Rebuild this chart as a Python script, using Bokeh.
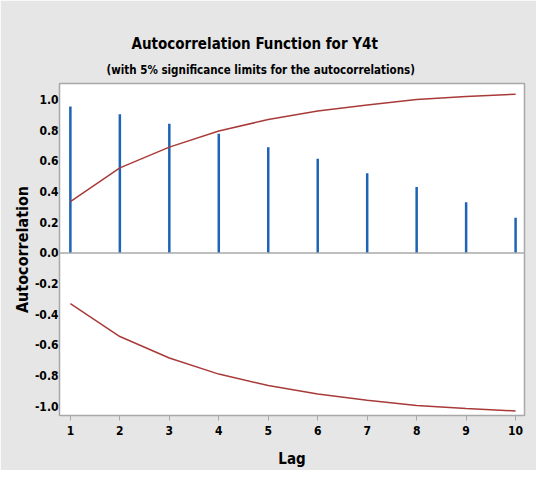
from bokeh.plotting import figure
from bokeh.models import Title, FixedTicker, Span, Range1d, CustomJSTickFormatter
from bokeh.embed import file_html
from bokeh.resources import INLINE

lags = [1, 2, 3, 4, 5, 6, 7, 8, 9, 10]
acf = [0.955, 0.905, 0.842, 0.777, 0.69, 0.615, 0.52, 0.43, 0.33, 0.23]
upper_limit = [0.335, 0.555, 0.69, 0.795, 0.87, 0.925, 0.965, 1.0, 1.02, 1.035]
lower_limit = [-0.33, -0.545, -0.685, -0.79, -0.865, -0.92, -0.96, -0.995, -1.015, -1.03]
y_ticks = [-1.0, -0.8, -0.6, -0.4, -0.2, 0.0, 0.2, 0.4, 0.6, 0.8, 1.0]

FONT = "DejaVu Sans Condensed, Roboto"
BG = "#e6e6e6"

p = figure(width=536, height=470, output_backend="svg", toolbar_location=None,
           x_range=Range1d(0.78, 10.18), y_range=Range1d(-1.06, 1.105),
           min_border_left=59, min_border_right=12, min_border_top=83, min_border_bottom=53)

p.border_fill_color = BG
p.background_fill_color = "white"
p.outline_line_color = "#a8a8a8"
p.outline_line_width = 1.5
p.grid.visible = False

sub = Title(text="(with 5% significance limits for the autocorrelations)", align="left",
            text_font=FONT, text_font_size="11.5px", text_font_style="bold", text_color="black",
            offset=47, standoff=13)
main = Title(text="Autocorrelation Function for Y4t", align="left",
             text_font=FONT, text_font_size="15px", text_font_style="bold", text_color="black",
             offset=72, standoff=3)
p.title = None
p.add_layout(sub, "above")
p.add_layout(main, "above")

p.add_layout(Span(location=0, dimension="width", line_color="#a8a8a8", line_width=1.5))

p.segment(x0=lags, y0=[0] * len(lags), x1=lags, y1=acf, line_color="#1e63b5", line_width=2.5)
p.line(lags, upper_limit, line_color="#a93a3a", line_width=1.5)
p.line(lags, lower_limit, line_color="#a93a3a", line_width=1.5)

p.xaxis.ticker = FixedTicker(ticks=lags)
p.yaxis.ticker = FixedTicker(ticks=y_ticks)
p.yaxis.formatter = CustomJSTickFormatter(code="return tick.toFixed(1);")

for ax in (p.xaxis, p.yaxis):
    ax.axis_line_color = None
    ax.major_tick_line_color = "#a8a8a8"
    ax.minor_tick_line_color = None
    ax.major_label_text_font = FONT
    ax.major_label_text_font_style = "bold"
    ax.major_label_text_font_size = "12px"
    ax.major_label_text_color = "black"
    ax.axis_label_text_font = FONT
    ax.axis_label_text_font_style = "bold"
    ax.axis_label_text_color = "black"

p.xaxis.axis_label = "Lag"
p.xaxis.axis_label_text_font_size = "15px"
p.xaxis.major_tick_out = 5
p.xaxis.major_tick_in = 0
p.xaxis.major_label_standoff = 5
p.xaxis.axis_label_standoff = 12

p.yaxis.axis_label = "Autocorrelation"
p.yaxis.axis_label_text_font_size = "16px"
p.yaxis.major_tick_out = 0
p.yaxis.major_tick_in = 0
p.yaxis.major_label_standoff = 1
p.yaxis.axis_label_standoff = 0

open("out.html", "w").write(file_html(p, INLINE))
